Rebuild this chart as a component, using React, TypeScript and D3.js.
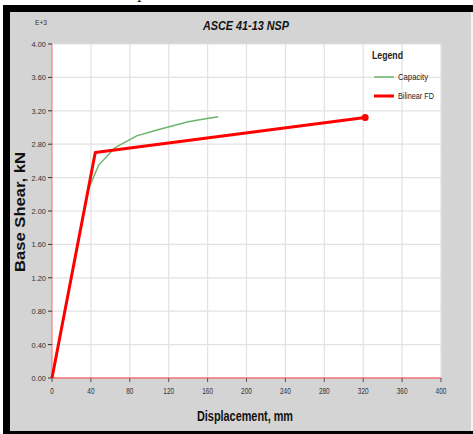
import React from 'react';
import * as d3 from 'd3';

// capacity curve (green), displacement mm / base shear E+3 kN
const capDisp = [0, 37, 48, 65, 87, 108, 140, 155, 171];
const capShear = [0, 2.25, 2.55, 2.76, 2.9, 2.97, 3.07, 3.1, 3.13];

// bilinear force-displacement (red)
const bilDisp = [0, 44.5, 322];
const bilShear = [0, 2.7, 3.12];

const xTicks = [0, 40, 80, 120, 160, 200, 240, 280, 320, 360, 400];
const yTicks = [0, 0.4, 0.8, 1.2, 1.6, 2.0, 2.4, 2.8, 3.2, 3.6, 4.0];

const W = 473;
const H = 434;
const sans = "'Liberation Sans', Arial, sans-serif";

export default function App() {
  const x = d3.scaleLinear().domain([0, 400]).range([52, 441]);
  const y = d3.scaleLinear().domain([0, 4]).range([378, 44]);

  const line = d3.line<[number, number]>()
    .x(d => x(d[0]))
    .y(d => y(d[1]));

  const capPts = capDisp.map((d, i) => [d, capShear[i]] as [number, number]);
  const bilPts = bilDisp.map((d, i) => [d, bilShear[i]] as [number, number]);
  const last = bilPts[bilPts.length - 1];

  // condensed text helper
  const cond = (s: string) => ({ textLength: s.length * 3.6, lengthAdjust: 'spacingAndGlyphs' as const });

  return (
    <svg width={W} height={H} style={{ position: 'absolute', left: 0, top: 0 }}>
      <rect x={0} y={0} width={W} height={H} fill="#fff" />
      <text x={137} y={-1} fontFamily="'DejaVu Serif', serif" fontSize={14} fill="#222">p</text>
      <rect x={3} y={5} width={W - 3} height={H - 5} fill="#000" />
      <rect x={10} y={12} width={461} height={419} fill="#d4d4d4" />
      <rect x={471} y={12} width={2} height={419} fill="#f4f4f4" />

      {/* plot area */}
      <rect x={x(0)} y={y(4)} width={x(400) - x(0)} height={y(0) - y(4)} fill="#fff" />
      {xTicks.slice(1).map(t => (
        <line key={'gx' + t} x1={x(t)} x2={x(t)} y1={y(0)} y2={y(4)} stroke="#e2e2e2" strokeWidth={1.2} />
      ))}
      {yTicks.slice(1).map(t => (
        <line key={'gy' + t} x1={x(0)} x2={x(400)} y1={y(t)} y2={y(t)} stroke="#e2e2e2" strokeWidth={1.2} />
      ))}
      <line x1={x(0)} x2={x(0)} y1={y(0)} y2={y(4)} stroke="#f07070" strokeWidth={1} />
      <line x1={x(0)} x2={x(400)} y1={y(0)} y2={y(0)} stroke="#f07070" strokeWidth={1.5} />

      {/* ticks */}
      {yTicks.map(t => (
        <g key={'ty' + t}>
          <line x1={x(0) - 4} x2={x(0)} y1={y(t)} y2={y(t)} stroke="#333" strokeWidth={1} />
          <text x={x(0) - 6} y={y(t) + 3} textAnchor="end" fontFamily={sans} fontSize={8} fill="#333" {...cond(t.toFixed(2))}>
            {t.toFixed(2)}
          </text>
        </g>
      ))}
      {xTicks.map(t => (
        <g key={'tx' + t}>
          <line x1={x(t)} x2={x(t)} y1={y(0)} y2={y(0) + 4} stroke="#555" strokeWidth={1} />
          <text x={x(t)} y={y(0) + 16} textAnchor="middle" fontFamily={sans} fontSize={8.5} fill="#333" {...cond(String(t))}>
            {t}
          </text>
        </g>
      ))}

      {/* series */}
      <path d={line(capPts) || ''} fill="none" stroke="#6cb46c" strokeWidth={1.5} />
      <path d={line(bilPts) || ''} fill="none" stroke="#ff0000" strokeWidth={3} strokeLinejoin="round" />
      <circle cx={x(last[0])} cy={y(last[1])} r={3.5} fill="#ff0000" />

      {/* texts */}
      <text x={35} y={25} fontFamily={sans} fontSize={8} fill="#333" textLength={12} lengthAdjust="spacingAndGlyphs">E+3</text>
      <text x={203} y={30} fontFamily={sans} fontSize={13} fontWeight="bold" fontStyle="italic" fill="#111"
        textLength={86} lengthAdjust="spacingAndGlyphs">
        ASCE 41-13 NSP
      </text>
      <text
        transform={`translate(25, 272) rotate(-90)`}
        fontFamily={sans}
        fontSize={14}
        fontWeight="bold"
        fill="#111"
        textLength={120}
        lengthAdjust="spacingAndGlyphs"
      >
        Base Shear, kN
      </text>
      <text x={197} y={421} fontFamily={sans} fontSize={14} fontWeight="bold" fill="#111"
        textLength={96} lengthAdjust="spacingAndGlyphs">
        Displacement, mm
      </text>

      {/* legend */}
      <text x={372} y={59} fontFamily={sans} fontSize={11} fontWeight="bold" fill="#222" textLength={31} lengthAdjust="spacingAndGlyphs">Legend</text>
      <line x1={374} x2={394} y1={77} y2={77} stroke="#6cb46c" strokeWidth={1.5} />
      <text x={398} y={80} fontFamily={sans} fontSize={8.5} fill="#222" textLength={30} lengthAdjust="spacingAndGlyphs">Capacity</text>
      <line x1={374} x2={394} y1={96} y2={96} stroke="#ff0000" strokeWidth={3} />
      <text x={398} y={99} fontFamily={sans} fontSize={8.5} fill="#222" textLength={36} lengthAdjust="spacingAndGlyphs">Bilinear FD</text>
    </svg>
  );
}
